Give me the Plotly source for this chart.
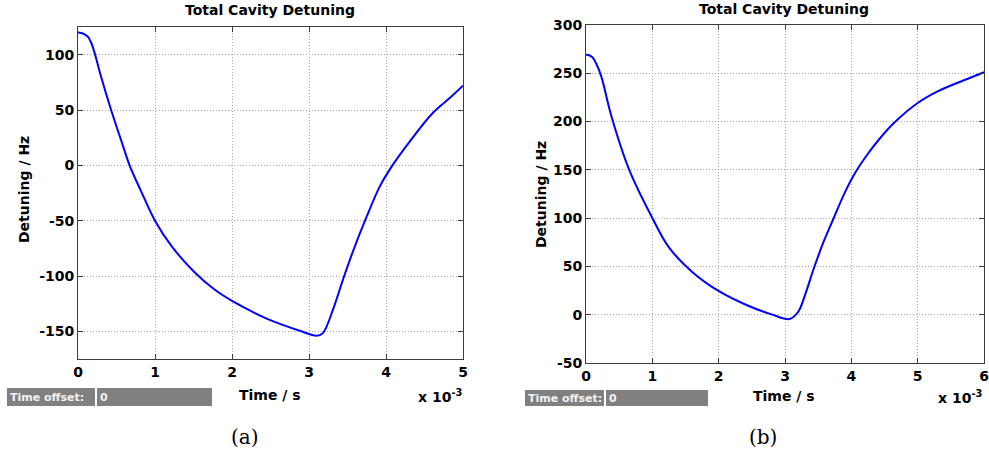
import plotly.graph_objects as go

# ---- data (time in ms, i.e. x 10^-3 s) ----
time_a = [0.0, 0.04, 0.08, 0.13, 0.17, 0.21, 0.30, 0.43, 0.56, 0.67, 0.82, 1.0, 1.22, 1.52, 1.76, 2.0, 2.2, 2.45, 2.88,
          3.1, 3.18, 3.31, 3.44, 3.57, 3.75, 3.92, 4.09, 4.31, 4.61, 4.83, 5.0]
det_a = [120, 119.6, 118.6, 116, 111, 103, 80, 50, 22.7, 0, -23.5, -50, -73.5, -97, -111.5, -122.5, -130, -138.5, -149.5,
         -154, -151.6, -130.7, -103.5, -77.9, -46.2, -19, 0.6, 21.7, 47.5, 61, 72]

time_b = [0.0, 0.04, 0.1, 0.15, 0.23, 0.38, 0.65, 1.0, 1.25, 1.61, 2.01, 2.41, 2.81, 3.07,
          3.2, 3.3, 3.435, 3.585, 3.735, 3.9, 4.06, 4.25, 4.42, 4.645, 5.0, 5.3, 5.63, 5.97, 6.0]
det_b = [269, 268.6, 266, 260.3, 246.5, 206, 150, 100, 69.6, 43.7, 24, 10.3, 0, -4.5,
         3, 20, 48, 76, 100, 126, 147, 166.5, 181.5, 198.5, 219, 231, 240.7, 250, 251]

xticks_a = [0, 1, 2, 3, 4, 5]
yticks_a = [-150, -100, -50, 0, 50, 100]
xticks_b = [0, 1, 2, 3, 4, 5, 6]
yticks_b = [-50, 0, 50, 100, 150, 200, 250, 300]

W, H = 989, 459
FONT = "DejaVu Sans"
AX = "#3c3c3c"

fig = go.Figure()
fig.add_trace(go.Scatter(x=time_a, y=det_a, mode="lines",
                         line=dict(color="#0000ff", width=2, shape="spline", smoothing=1.0),
                         xaxis="x", yaxis="y", showlegend=False))
fig.add_trace(go.Scatter(x=time_b, y=det_b, mode="lines",
                         line=dict(color="#0000ff", width=2, shape="spline", smoothing=1.0),
                         xaxis="x2", yaxis="y2", showlegend=False))


def axis(domain, rng, ticks, anchor):
    return dict(domain=domain, range=rng, tickvals=ticks, ticktext=[str(t) for t in ticks],
                anchor=anchor, automargin=False,
                showline=True, linecolor=AX, linewidth=1, mirror="ticks",
                ticks="inside", ticklen=5, tickcolor=AX,
                showgrid=True, gridcolor="#a8a8a8", griddash="1px,2px", gridwidth=1,
                zeroline=False, tickfont=dict(family=FONT, size=14, color="black", weight="bold"),
                fixedrange=True)


fig.update_layout(
    width=W, height=H, margin=dict(l=0, r=0, t=0, b=0),
    paper_bgcolor="white", plot_bgcolor="white",
    xaxis=axis([78 / W, 463 / W], [0, 5], xticks_a, "y"),
    yaxis=axis([1 - 359 / H, 1 - 27 / H], [-175, 125], yticks_a, "x"),
    xaxis2=axis([586 / W, 984 / W], [0, 6], xticks_b, "y2"),
    yaxis2=axis([1 - 363 / H, 1 - 24.7 / H], [-50, 300], yticks_b, "x2"),
)

ann = []
tf = dict(family=FONT, size=14, color="black", weight="bold")
# titles
ann.append(dict(text="Total Cavity Detuning", x=270 / W, y=1 - 10 / H, font=tf))
ann.append(dict(text="Total Cavity Detuning", x=784 / W, y=1 - 9 / H, font=tf))
# y titles
ann.append(dict(text="Detuning / Hz", x=24 / W, y=1 - 190 / H, textangle=-90, font=tf))
ann.append(dict(text="Detuning / Hz", x=541 / W, y=1 - 195 / H, textangle=-90, font=tf))
# x titles
ann.append(dict(text="Time / s", x=270 / W, y=1 - 395 / H, font=tf))
ann.append(dict(text="Time / s", x=784 / W, y=1 - 396 / H, font=tf))
# exponents
ann.append(dict(text="x 10<sup>-3</sup>", x=440 / W, y=1 - 396 / H, font=tf))
ann.append(dict(text="x 10<sup>-3</sup>", x=960 / W, y=1 - 397 / H, font=tf))
# captions
cf = dict(family="DejaVu Serif", size=20, color="black")
ann.append(dict(text="(a)", x=245 / W, y=1 - 437 / H, font=cf))
ann.append(dict(text="(b)", x=763 / W, y=1 - 437 / H, font=cf))

shapes = []
boxes = [(7, 95, 388, 406, "Time offset:"), (97, 212, 388, 406, "0"),
         (525, 604, 390, 406, "Time offset:"), (606, 708, 390, 406, "0")]
for x0, x1, y0, y1, label in boxes:
    shapes.append(dict(type="rect", xref="paper", yref="paper", x0=x0 / W, x1=x1 / W,
                       y0=1 - y1 / H, y1=1 - y0 / H, fillcolor="#808080", line=dict(width=0)))
    ann.append(dict(text=label, x=(x0 + 1) / W, y=1 - (y0 + y1) / 2 / H, xanchor="left",
                    font=dict(family=FONT, size=11, color="#f2f2f2", weight="bold")))

for a in ann:
    a.setdefault("xref", "paper")
    a.setdefault("yref", "paper")
    a.setdefault("showarrow", False)
    a.setdefault("xanchor", "center")
    a.setdefault("yanchor", "middle")
fig.update_layout(annotations=ann, shapes=shapes)

fig.write_html("out.html", config={"displayModeBar": False},
               post_script="document.body.style.margin='0';document.body.style.overflow='hidden';")
